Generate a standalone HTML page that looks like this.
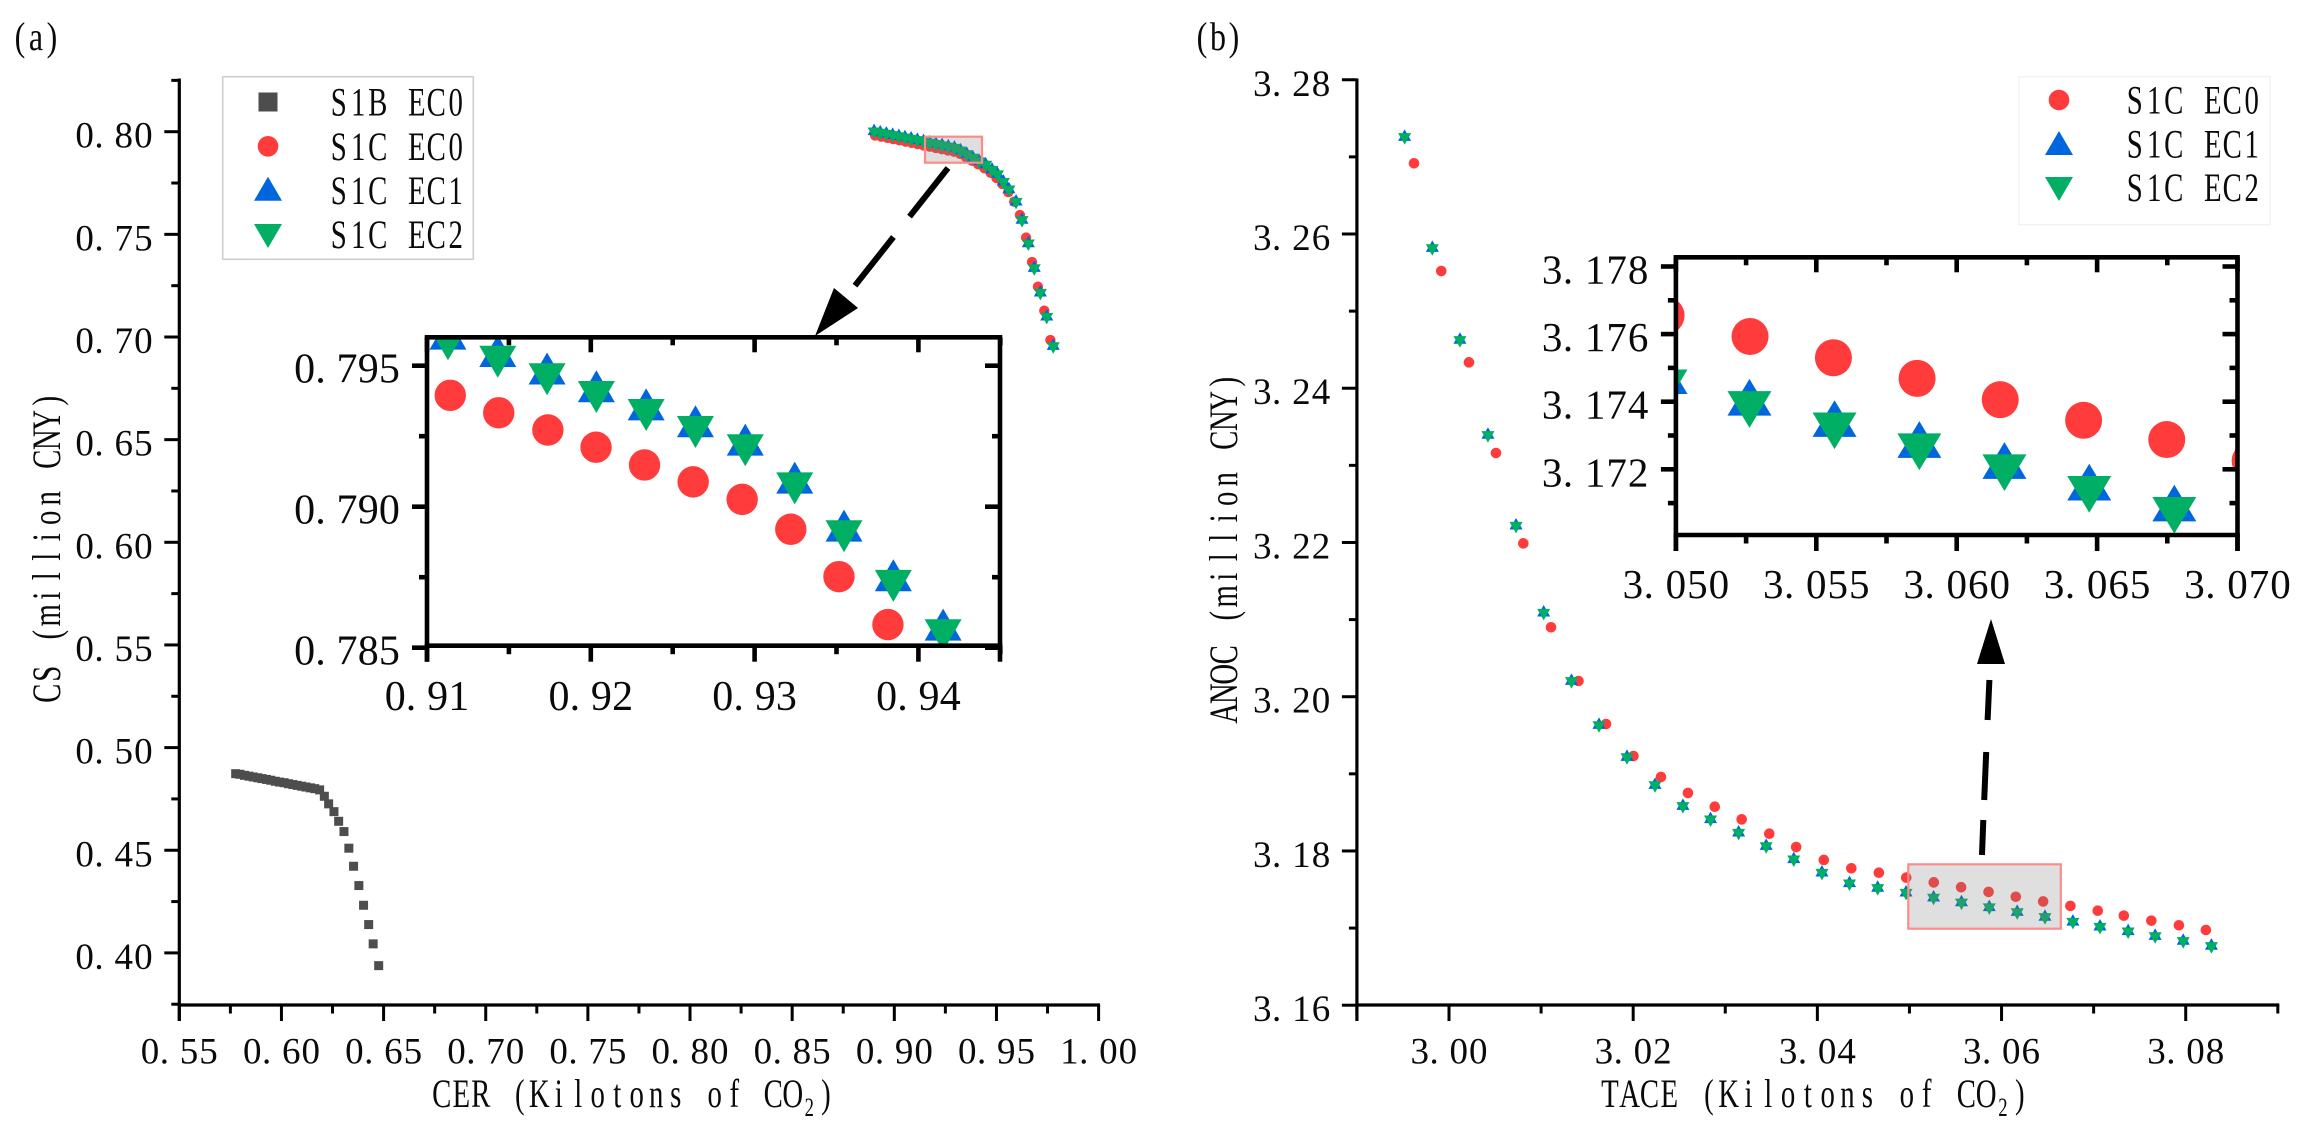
<!DOCTYPE html>
<html lang="en">
<head>
<meta charset="utf-8">
<title>CS vs CER and ANOC vs TACE Pareto fronts</title>
<style>
html,body{margin:0;padding:0;background:#fff;width:2304px;height:1133px;overflow:hidden}
svg{display:block;position:absolute;left:0;top:0}
text{font-family:"Liberation Serif","Noto Serif CJK SC",serif;fill:#0a0a0a}
</style>
</head>
<body>
<svg id="figure" xmlns="http://www.w3.org/2000/svg" width="2304" height="1133" viewBox="0 0 2304 1133">
  <defs>
    <clipPath id="clip-inset-a"><rect x="427" y="337.3" width="573" height="308.4"/></clipPath>
    <clipPath id="clip-inset-b"><rect x="1676" y="257.3" width="561.5" height="277.7"/></clipPath>
  </defs>
  <rect width="2304" height="1133" fill="#fff"/>

  <text class="cell" data-cell="16" transform="translate(12 50) scale(.8 1)" font-size="40">(a)</text>
  <text class="cell" data-cell="16" transform="translate(1194 50) scale(.8 1)" font-size="40">(b)</text>

  <g id="layer-a-points"></g>
  <g id="layer-b-points"></g>
  <g id="layer-a-axes"></g>
  <g id="layer-b-axes"></g>

  <rect x="925" y="136.7" width="57" height="26" fill="#808080" fill-opacity="0.25" stroke="#ff8a8a" stroke-width="2.2"/>
  <rect x="1908.3" y="864.3" width="152.5" height="64.4" fill="#808080" fill-opacity="0.25" stroke="#ff8a8a" stroke-width="2.2"/>

  <g id="layer-a-inset-points" clip-path="url(#clip-inset-a)"></g>
  <g id="layer-b-inset-points" clip-path="url(#clip-inset-b)"></g>
  <g id="layer-a-inset-axes"></g>
  <g id="layer-b-inset-axes"></g>

  <text class="cell" data-cell="19.5" transform="translate(432 1107) scale(.72 1)" font-size="40">CER (Kilotons of CO<tspan font-size="26" dy="9">2</tspan><tspan dy="-9">)</tspan></text>
  <text class="cell" data-cell="19.8" transform="translate(1600 1107) scale(.72 1)" font-size="40">TACE (Kilotons of CO<tspan font-size="26" dy="9">2</tspan><tspan dy="-9">)</tspan></text>
  <text class="cell" data-cell="19.5" transform="translate(60 703) rotate(-90) scale(.72 1)" font-size="40">CS (million CNY)</text>
  <text class="cell" data-cell="19.5" transform="translate(1237 723) rotate(-90) scale(.72 1)" font-size="40">ANOC (million CNY)</text>

  <g>
    <rect x="222.7" y="76.7" width="250.6" height="182.6" fill="#fff" stroke="#cfcfcf" stroke-width="1.6"/>
    <rect x="258.5" y="92.5" width="19" height="19" fill="#4d4d4d"/>
    <circle cx="268" cy="146.3" r="10.3" fill="#ff3b3b"/>
    <polygon points="268,176.7 282,200.7 254,200.7" fill="#0066dd"/>
    <polygon points="254,224 282,224 268,248" fill="#00ae64"/>
    <text class="cell" data-cell="19.5" transform="translate(329 115.5) scale(.72 1)" font-size="40">S1B EC0</text>
    <text class="cell" data-cell="19.5" transform="translate(329 160) scale(.72 1)" font-size="40">S1C EC0</text>
    <text class="cell" data-cell="19.5" transform="translate(329 204) scale(.72 1)" font-size="40">S1C EC1</text>
    <text class="cell" data-cell="19.5" transform="translate(329 248) scale(.72 1)" font-size="40">S1C EC2</text>
  </g>
  <g>
    <rect x="2019" y="76.7" width="251" height="148" fill="#fff" stroke="#f0f0f0" stroke-width="1.2"/>
    <circle cx="2059" cy="100" r="10.3" fill="#ff3b3b"/>
    <polygon points="2059,131 2073,155 2045,155" fill="#0066dd"/>
    <polygon points="2045,177 2073,177 2059,201" fill="#00ae64"/>
    <text class="cell" data-cell="19.5" transform="translate(2125 113.5) scale(.72 1)" font-size="40">S1C EC0</text>
    <text class="cell" data-cell="19.5" transform="translate(2125 157.5) scale(.72 1)" font-size="40">S1C EC1</text>
    <text class="cell" data-cell="19.5" transform="translate(2125 201) scale(.72 1)" font-size="40">S1C EC2</text>
  </g>

  <g>
    <line x1="948" y1="168" x2="846" y2="297" stroke="#000" stroke-width="6" stroke-dasharray="62 26"/>
    <polygon points="815,336 858,308 834,288" fill="#000"/>
  </g>
  <g>
    <line x1="1982" y1="855" x2="1983.3" y2="820" stroke="#000" stroke-width="6"/>
    <line x1="1984.2" y1="800" x2="1986.2" y2="752" stroke="#000" stroke-width="6"/>
    <line x1="1987.6" y1="720" x2="1989.4" y2="680" stroke="#000" stroke-width="6"/>
    <polygon points="1991,619 1977,664 2005,664" fill="#000"/>
  </g>
</svg>
<script>
// ---------- panel (a) data ----------
const s1bCer = [0.5776,0.5797,0.5819,0.5841,0.5862,0.5884,0.5905,0.5927,0.5948,0.5970,0.5991,0.6013,0.6034,0.6056,0.6077,0.6099,0.6120,0.6142,0.6163,0.6187,0.6210,0.6231,0.6257,0.6280,0.6306,0.6330,0.6353,0.6379,0.6402,0.6427,0.6449,0.6476];
const s1bCs = [0.4873,0.4870,0.4865,0.4861,0.4857,0.4853,0.4849,0.4845,0.4841,0.4836,0.4832,0.4829,0.4824,0.4820,0.4816,0.4812,0.4808,0.4804,0.4800,0.4794,0.4763,0.4726,0.4688,0.4641,0.4591,0.4510,0.4422,0.4328,0.4232,0.4138,0.4044,0.3938];
const ec0Cer = [0.8906,0.8936,0.8966,0.8995,0.9025,0.9055,0.9085,0.91142,0.91438,0.91738,0.92032,0.92328,0.92625,0.92924,0.93221,0.93515,0.93814,0.9411,0.9441,0.9471,0.9500,0.9529,0.9558,0.9587,0.9615,0.9645,0.9674,0.9703,0.9734,0.9764];
const ec0Cs = [0.7982,0.7976,0.7970,0.79639,0.79578,0.79517,0.79456,0.79395,0.79333,0.79272,0.79211,0.79148,0.79088,0.79026,0.78920,0.78752,0.78582,0.7841,0.7822,0.7800,0.7775,0.7745,0.7706,0.7659,0.7594,0.7484,0.7365,0.7245,0.7128,0.6985];
const ec1Cer = [0.8901,0.8931,0.8961,0.8992,0.9022,0.9052,0.9082,0.91128,0.91432,0.91733,0.92034,0.92338,0.92639,0.92943,0.93245,0.93546,0.93847,0.94151,0.9447,0.9478,0.9505,0.9534,0.9561,0.9596,0.9625,0.9656,0.9685,0.9715,0.9746,0.9778];
const ec1Cs = [0.8002,0.7996,0.7990,0.7984,0.7978,0.7972,0.7966,0.79595,0.79533,0.79471,0.79408,0.79344,0.79284,0.79219,0.79084,0.78914,0.78738,0.78563,0.7840,0.7815,0.7793,0.7756,0.7719,0.7659,0.7570,0.7456,0.7336,0.7216,0.7099,0.6956];
const ec2Cer = [0.8901,0.8931,0.8961,0.8992,0.9022,0.9052,0.9082,0.91128,0.91432,0.91733,0.92034,0.92338,0.92639,0.92943,0.93245,0.93546,0.93847,0.94151,0.9447,0.9478,0.9505,0.9534,0.9561,0.9596,0.9625,0.9656,0.9685,0.9715,0.9746,0.9778];
const ec2Cs = [0.8002,0.7996,0.7990,0.7984,0.7978,0.7972,0.7966,0.79595,0.79533,0.79471,0.79408,0.79344,0.79284,0.79219,0.79084,0.78914,0.78738,0.78563,0.7840,0.7815,0.7793,0.7756,0.7719,0.7659,0.7570,0.7456,0.7336,0.7216,0.7099,0.6956];

const aXTicks = [0.55,0.60,0.65,0.70,0.75,0.80,0.85,0.90,0.95,1.00];
const aXLabels = ["0.55","0.60","0.65","0.70","0.75","0.80","0.85","0.90","0.95","1.00"];
const aXMinor = [0.575,0.625,0.675,0.725,0.775,0.825,0.875,0.925,0.975];
const aYTicks = [0.40,0.45,0.50,0.55,0.60,0.65,0.70,0.75,0.80];
const aYLabels = ["0.40","0.45","0.50","0.55","0.60","0.65","0.70","0.75","0.80"];
const aYMinor = [0.375,0.425,0.475,0.525,0.575,0.625,0.675,0.725,0.775,0.825];

const aInsetXTicks = [0.91,0.92,0.93,0.94];
const aInsetXLabels = ["0.91","0.92","0.93","0.94"];
const aInsetXMinor = [0.915,0.925,0.935,0.945];
const aInsetYTicks = [0.785,0.790,0.795];
const aInsetYLabels = ["0.785","0.790","0.795"];
const aInsetYMinor = [0.7875,0.7925];

// ---------- panel (b) data ----------
const ec0Tace = [2.99620,2.99916,3.00217,3.00510,3.00807,3.01108,3.01406,3.01705,3.02003,3.02302,3.02595,3.02886,3.03178,3.03478,3.03770,3.04070,3.04369,3.04668,3.04965,3.05264,3.05561,3.05859,3.06155,3.06452,3.06748,3.07045,3.07328,3.07627,3.07926,3.08219];
const ec0Anoc = [3.26917,3.25520,3.24336,3.23160,3.21989,3.20900,3.20204,3.19646,3.19231,3.18959,3.18752,3.18574,3.18410,3.18224,3.18051,3.17883,3.17775,3.17718,3.17655,3.17593,3.17530,3.17469,3.17406,3.17345,3.17288,3.17225,3.17161,3.17096,3.17036,3.16975];
const ec1Tace = [2.99518,2.99819,3.00119,3.00423,3.00728,3.01028,3.01330,3.01629,3.01933,3.02237,3.02540,3.02840,3.03145,3.03444,3.03744,3.04050,3.04349,3.04655,3.04963,3.05262,3.05565,3.05867,3.06170,3.06472,3.06775,3.07069,3.07375,3.07668,3.07973,3.08279];
const ec1Anoc = [3.27258,3.25818,3.24626,3.23394,3.22218,3.21090,3.20204,3.19633,3.19218,3.18855,3.18583,3.18410,3.18237,3.18064,3.17892,3.17718,3.17580,3.17520,3.17459,3.17395,3.17332,3.17270,3.17208,3.17144,3.17082,3.17018,3.16958,3.16897,3.16833,3.16768];
const ec2Tace = [2.99518,2.99819,3.00119,3.00423,3.00728,3.01028,3.01330,3.01629,3.01933,3.02237,3.02540,3.02840,3.03145,3.03444,3.03744,3.04050,3.04349,3.04655,3.04963,3.05262,3.05565,3.05867,3.06170,3.06472,3.06775,3.07069,3.07375,3.07668,3.07973,3.08279];
const ec2Anoc = [3.27258,3.25818,3.24626,3.23394,3.22218,3.21090,3.20204,3.19633,3.19218,3.18855,3.18583,3.18410,3.18237,3.18064,3.17892,3.17718,3.17580,3.17520,3.17459,3.17395,3.17332,3.17270,3.17208,3.17144,3.17082,3.17018,3.16958,3.16897,3.16833,3.16768];

const bXTicks = [3.00,3.02,3.04,3.06,3.08];
const bXLabels = ["3.00","3.02","3.04","3.06","3.08"];
const bXMinor = [2.99,3.01,3.03,3.05,3.07,3.09];
const bYTicks = [3.16,3.18,3.20,3.22,3.24,3.26,3.28];
const bYLabels = ["3.16","3.18","3.20","3.22","3.24","3.26","3.28"];
const bYMinor = [3.17,3.19,3.21,3.23,3.25,3.27];

const bInsetXTicks = [3.050,3.055,3.060,3.065,3.070];
const bInsetXLabels = ["3.050","3.055","3.060","3.065","3.070"];
const bInsetXMinor = [3.0525,3.0575,3.0625,3.0675];
const bInsetYTicks = [3.172,3.174,3.176,3.178];
const bInsetYLabels = ["3.172","3.174","3.176","3.178"];
const bInsetYMinor = [3.171,3.173,3.175,3.177];

// ---------- axis functions ----------
const aX = v => 179.3 + (v - 0.55) * 2042.9;
const aY = v => 131.7 + (0.80 - v) * 2053;
const aInsetX = v => 427 + (v - 0.91) * 16380;
const aInsetY = v => 365.7 + (0.795 - v) * 28200;
const bX = v => 1449 + (v - 3) * 9209;
const bY = v => 234 + (3.26 - v) * 7712;
const bInsetX = v => 1675.9 + (v - 3.05) * 28080;
const bInsetY = v => 469.3 + (3.172 - v) * 33800;

const NS = 'http://www.w3.org/2000/svg';

// lay each character of a condensed label into a half-width cell, like SimSun
const measureCtx = document.createElement('canvas').getContext('2d');
function layoutCells(el) {
  const cell = parseFloat(el.getAttribute('data-cell'));
  const scale = parseFloat(/scale\(([\d.]+)/.exec(el.getAttribute('transform'))[1]);
  const baseSize = parseFloat(el.getAttribute('font-size'));
  const local = cell / scale;
  const xs = [];
  let pos = 0;
  el.childNodes.forEach(node => {
    const size = node.nodeType === 1 && node.getAttribute('font-size') ? parseFloat(node.getAttribute('font-size')) : baseSize;
    const width = size === baseSize ? local : local * 0.7;
    measureCtx.font = size + 'px "Liberation Serif"';
    for (const ch of node.textContent) {
      xs.push((pos + (width - measureCtx.measureText(ch).width) / 2).toFixed(2));
      pos += width;
    }
  });
  el.setAttribute('x', xs.join(' '));
}
document.querySelectorAll('text.cell').forEach(layoutCells);

function drawLine(parent, x1, y1, x2, y2, width, name) {
  const el = document.createElementNS(NS, 'line');
  
  
  el.setAttribute('x1', x1);
  el.setAttribute('y1', y1);
  el.setAttribute('x2', x2);
  el.setAttribute('y2', y2);
  el.setAttribute('stroke', '#000');
  el.setAttribute('stroke-width', width);
  parent.appendChild(el);
}

// half-width glyph cells imitate the original SimSun digits
function drawNumber(parent, str, left, baseline, cell, size, name) {
  const el = document.createElementNS(NS, 'text');
  
  
  const xs = [];
  for (let i = 0; i < str.length; i++) {
    xs.push((left + i * cell + (str[i] === '.' ? 0 : (cell - size * 0.5) / 2)).toFixed(2));
  }
  el.setAttribute('x', xs.join(' '));
  el.setAttribute('y', baseline);
  el.setAttribute('font-size', size);
  el.textContent = str;
  parent.appendChild(el);
}

function drawCircle(parent, cx, cy, r, fill, name) {
  const el = document.createElementNS(NS, 'circle');
  
  
  el.setAttribute('cx', cx.toFixed(2));
  el.setAttribute('cy', cy.toFixed(2));
  el.setAttribute('r', r);
  el.setAttribute('fill', fill);
  parent.appendChild(el);
}

function drawTriangle(parent, cx, cy, w, h, up, fill, name) {
  const el = document.createElementNS(NS, 'polygon');
  
  
  const d = up ? 1 : -1;
  const pts = [
    [cx, cy - d * h * 2 / 3],
    [cx + w / 2, cy + d * h / 3],
    [cx - w / 2, cy + d * h / 3]
  ];
  el.setAttribute('points', pts.map(p => p[0].toFixed(2) + ',' + p[1].toFixed(2)).join(' '));
  el.setAttribute('fill', fill);
  parent.appendChild(el);
}

function drawSquare(parent, cx, cy, s, fill, name) {
  const el = document.createElementNS(NS, 'rect');
  
  
  el.setAttribute('x', (cx - s / 2).toFixed(2));
  el.setAttribute('y', (cy - s / 2).toFixed(2));
  el.setAttribute('width', s);
  el.setAttribute('height', s);
  el.setAttribute('fill', fill);
  parent.appendChild(el);
}

// box (optional): skip marks that fall entirely outside an inset's plot area
function plotStar(parent, xs, ys, upXs, upYs, downXs, downYs, sx, sy, r, w, h, box) {
  const shown = (px, py) => !box || (px > box.l - w && px < box.r + w && py > box.t - w && py < box.b + w);
  xs.forEach((v, i) => {
    if (shown(sx(v), sy(ys[i]))) drawCircle(parent, sx(v), sy(ys[i]), r, '#ff3b3b', 'point-s1c-ec0');
  });
  upXs.forEach((v, i) => {
    if (shown(sx(v), sy(upYs[i]))) drawTriangle(parent, sx(v), sy(upYs[i]), w, h, true, '#0066dd', 'point-s1c-ec1');
  });
  downXs.forEach((v, i) => {
    if (shown(sx(v), sy(downYs[i]))) drawTriangle(parent, sx(v), sy(downYs[i]), w, h, false, '#00ae64', 'point-s1c-ec2');
  });
}

function drawMainAxes(parent, sx, sy, xTicks, xLabels, xMinor, yTicks, yLabels, yMinor, prefix) {
  const ax = sx(xMinor[0] === 2.99 ? 2.99 : 0.55);
  const yBottom = 1005;
  const yTop = 80;
  const xRight = sx(xMinor[0] === 2.99 ? 3.09 : 1.0);
  drawLine(parent, ax, yTop - 1.5, ax, yBottom + 16, 3.2, prefix + '-y-axis-line');
  drawLine(parent, ax - 1.5, yBottom, xRight + 1.5, yBottom, 3.2, prefix + '-x-axis-line');
  xTicks.forEach((v, i) => {
    drawLine(parent, sx(v), yBottom, sx(v), yBottom + 16, 3, prefix + '-x-tick');
    drawNumber(parent, xLabels[i], sx(v) - 39, 1063.5, 19.5, 37, prefix + '-x-tick-label');
  });
  xMinor.forEach(v => drawLine(parent, sx(v), yBottom, sx(v), yBottom + 8.5, 3, prefix + '-x-minor-tick'));
  yTicks.forEach((v, i) => {
    drawLine(parent, ax - 15, sy(v), ax, sy(v), 3, prefix + '-y-tick');
    drawNumber(parent, yLabels[i], ax - 104.5, sy(v) + 16, 19.6, 37, prefix + '-y-tick-label');
  });
  yMinor.forEach(v => drawLine(parent, ax - 8, sy(v), ax, sy(v), 3, prefix + '-y-minor-tick'));
}

function drawInsetAxes(parent, sx, sy, box, xTicks, xLabels, xMinor, yTicks, yLabels, yMinor, prefix, o) {
  const sw = 4.6;
  drawLine(parent, box.l - sw / 2, box.t, box.r + sw / 2, box.t, sw, prefix + '-top-border');
  drawLine(parent, box.l - sw / 2, box.b, box.r + sw / 2, box.b, sw, prefix + '-bottom-border');
  drawLine(parent, box.l, box.t, box.l, box.b + 16, sw, prefix + '-left-border');
  drawLine(parent, box.r, box.t, box.r, box.b + 16, sw, prefix + '-right-border');
  xTicks.forEach((v, i) => {
    drawLine(parent, sx(v), box.b, sx(v), box.b + 16, sw, prefix + '-x-tick');
    drawLine(parent, sx(v), box.t, sx(v), box.t + 15, sw, prefix + '-x-tick-top');
    drawNumber(parent, xLabels[i], sx(v) - xLabels[i].length * o.cell / 2, o.xBase, o.cell, o.size, prefix + '-x-tick-label');
  });
  xMinor.forEach(v => {
    drawLine(parent, sx(v), box.b, sx(v), box.b + 8.5, sw, prefix + '-x-minor-tick');
    drawLine(parent, sx(v), box.t, sx(v), box.t + 8, sw, prefix + '-x-minor-tick-top');
  });
  yTicks.forEach((v, i) => {
    drawLine(parent, box.l - 15, sy(v), box.l, sy(v), sw, prefix + '-y-tick');
    drawLine(parent, box.r - 15, sy(v), box.r, sy(v), sw, prefix + '-y-tick-right');
    drawNumber(parent, yLabels[i], box.l - 15 - 12 - yLabels[i].length * o.cell, sy(v) + 17, o.cell, o.size, prefix + '-y-tick-label');
  });
  yMinor.forEach(v => {
    drawLine(parent, box.l - 8, sy(v), box.l, sy(v), sw, prefix + '-y-minor-tick');
    drawLine(parent, box.r - 8, sy(v), box.r, sy(v), sw, prefix + '-y-minor-tick-right');
  });
}

// ---------- render ----------
const layerAPoints = document.getElementById('layer-a-points');
const layerBPoints = document.getElementById('layer-b-points');
const layerAAxes = document.getElementById('layer-a-axes');
const layerBAxes = document.getElementById('layer-b-axes');
const layerAInset = document.getElementById('layer-a-inset-points');
const layerBInset = document.getElementById('layer-b-inset-points');
const layerAInsetAxes = document.getElementById('layer-a-inset-axes');
const layerBInsetAxes = document.getElementById('layer-b-inset-axes');

s1bCer.forEach((v, i) => drawSquare(layerAPoints, aX(v), aY(s1bCs[i]), 9, '#4d4d4d', 'point-s1b-ec0'));
plotStar(layerAPoints, ec0Cer, ec0Cs, ec1Cer, ec1Cs, ec2Cer, ec2Cs, aX, aY, 5.2, 13, 11.5);
plotStar(layerBPoints, ec0Tace, ec0Anoc, ec1Tace, ec1Anoc, ec2Tace, ec2Anoc, bX, bY, 5.3, 13, 11.5);

drawMainAxes(layerAAxes, aX, aY, aXTicks, aXLabels, aXMinor, aYTicks, aYLabels, aYMinor, 'panel-a');
drawMainAxes(layerBAxes, bX, bY, bXTicks, bXLabels, bXMinor, bYTicks, bYLabels, bYMinor, 'panel-b');

const insetBoxA = { l: 427, r: 1000, t: 337.3, b: 645.7 };
const insetBoxB = { l: 1675.9, r: 2237.5, t: 257.3, b: 535 };

const insetBg = (parent, box, name) => {
  const el = document.createElementNS(NS, 'rect');
  
  
  el.setAttribute('x', box.l);
  el.setAttribute('y', box.t);
  el.setAttribute('width', box.r - box.l);
  el.setAttribute('height', box.b - box.t);
  el.setAttribute('fill', '#fff');
  parent.appendChild(el);
};
insetBg(layerAInset, insetBoxA, 'panel-a-inset-background');
insetBg(layerBInset, insetBoxB, 'panel-b-inset-background');

plotStar(layerAInset, ec0Cer, ec0Cs, ec1Cer, ec1Cs, ec2Cer, ec2Cs, aInsetX, aInsetY, 15.7, 37, 32, insetBoxA);
plotStar(layerBInset, ec0Tace, ec0Anoc, ec1Tace, ec1Anoc, ec2Tace, ec2Anoc, bInsetX, bInsetY, 18.5, 44, 36.7, insetBoxB);

drawInsetAxes(layerAInsetAxes, aInsetX, aInsetY, insetBoxA, aInsetXTicks, aInsetXLabels, aInsetXMinor, aInsetYTicks, aInsetYLabels, aInsetYMinor, 'panel-a-inset', { cell: 21.2, size: 42, xBase: 710 });
drawInsetAxes(layerBInsetAxes, bInsetX, bInsetY, insetBoxB, bInsetXTicks, bInsetXLabels, bInsetXMinor, bInsetYTicks, bInsetYLabels, bInsetYMinor, 'panel-b-inset', { cell: 21.5, size: 41, xBase: 598 });
</script>
</body>
</html>
